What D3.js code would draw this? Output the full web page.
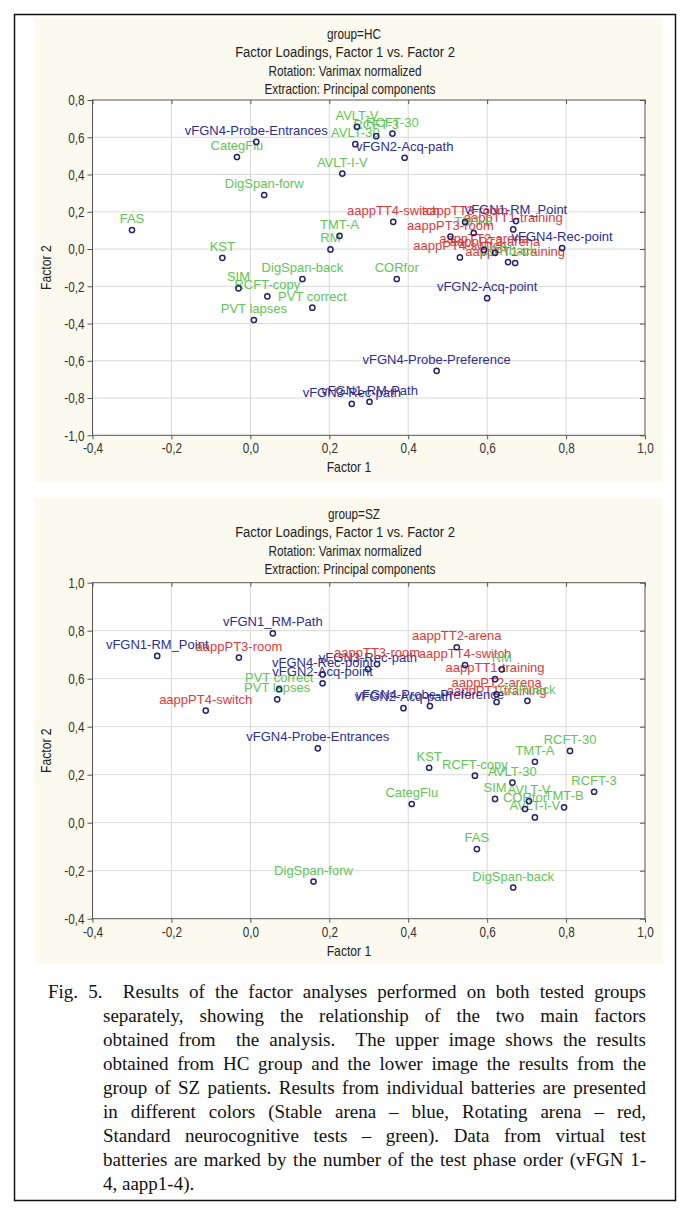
<!DOCTYPE html>
<html>
<head>
<meta charset="utf-8">
<script src="https://cdn.jsdelivr.net/npm/d3@7"></script>
<style>
  body { margin: 0; background: #fff; }
  svg { display: block; }
</style>
</head>
<body>
<svg id="fig" width="690" height="1216"></svg>
<script>
// tick values
const xTicks = [-0.4, -0.2, 0.0, 0.2, 0.4, 0.6, 0.8, 1.0];
const hcYTicks = [-1.0, -0.8, -0.6, -0.4, -0.2, 0.0, 0.2, 0.4, 0.6, 0.8];
const szYTicks = [-0.4, -0.2, 0.0, 0.2, 0.4, 0.6, 0.8, 1.0];

// group HC: S = stable arena, R = rotating arena, N = neurocognitive tests
const hcNames = ["FAS", "KST", "CategFlu", "vFGN4-Probe-Entrances", "DigSpan-forw", "AVLT-I-V",
  "TMT-A", "RM", "AVLT-V", "AVLT-30", "RCFT-3", "RCFT-30", "vFGN2-Acq-path", "SIM", "RCFT-copy",
  "DigSpan-back", "PVT correct", "PVT lapses", "CORfor", "vFGN2-Acq-point", "vFGN4-Probe-Preference",
  "vFGN1-RM-Path", "vFGN3-Rec-path", "aappTT4-switch", "aappTT3-room", "vFGN1-RM_Point",
  "aappTT1-training", "TMT-B", "aappPT3-room", "aappTT2-arena", "aappPT2-arena", "aappPT4-switch",
  "aappPT1-training", "CORback", "vFGN4-Rec-point"];
const hcF1 = [-0.30, -0.071, -0.034, 0.015, 0.035, 0.233, 0.226, 0.203, 0.27, 0.266, 0.319, 0.36, 0.391,
  -0.03, 0.043, 0.132, 0.157, 0.009, 0.371, 0.60, 0.472, 0.302, 0.257, 0.362, 0.544, 0.673, 0.666, 0.566,
  0.507, 0.592, 0.62, 0.531, 0.671, 0.653, 0.79];
const hcF2 = [0.102, -0.047, 0.494, 0.575, 0.29, 0.405, 0.071, -0.002, 0.656, 0.563, 0.606, 0.62, 0.49,
  -0.211, -0.254, -0.161, -0.315, -0.381, -0.161, -0.264, -0.654, -0.82, -0.831, 0.146, 0.145, 0.15, 0.105,
  0.086, 0.067, -0.005, -0.021, -0.045, -0.075, -0.07, 0.005];
const hcBattery = ["N", "N", "N", "S", "N", "N", "N", "N", "N", "N", "N", "N", "S", "N", "N", "N", "N", "N",
  "N", "S", "S", "S", "S", "R", "R", "S", "R", "N", "R", "R", "R", "R", "R", "N", "S"];

// group SZ
const szNames = ["vFGN1-RM_Point", "aappPT3-room", "vFGN1_RM-Path", "aappPT4-switch", "PVT correct",
  "PVT lapses", "vFGN4-Rec-point", "vFGN2-Acq-point", "vFGN3-Rec-path", "aappTT3-room", "aappTT2-arena",
  "aappTT4-switch", "RM", "aappTT1-training", "aappPT2-arena", "aappPT1-training", "CORback",
  "vFGN2-Acq-path", "vFGN4-Probe-Preference", "vFGN4-Probe-Entrances", "KST", "RCFT-copy", "TMT-A",
  "RCFT-30", "AVLT-30", "RCFT-3", "SIM", "AVLT-V", "CORfor", "TMT-B", "AVLT-I-V", "CategFlu", "FAS",
  "DigSpan-back", "DigSpan-forw"];
const szF1 = [-0.236, -0.029, 0.057, -0.113, 0.073, 0.068, 0.183, 0.183, 0.298, 0.321, 0.523, 0.544, 0.637,
  0.62, 0.624, 0.624, 0.702, 0.388, 0.455, 0.171, 0.453, 0.569, 0.721, 0.81, 0.664, 0.871, 0.62, 0.706,
  0.696, 0.795, 0.721, 0.409, 0.574, 0.666, 0.16];
const szF2 = [0.695, 0.688, 0.789, 0.467, 0.556, 0.514, 0.618, 0.581, 0.64, 0.661, 0.731, 0.657, 0.639,
  0.598, 0.535, 0.503, 0.508, 0.477, 0.486, 0.31, 0.229, 0.196, 0.254, 0.299, 0.167, 0.129, 0.099, 0.09,
  0.057, 0.064, 0.022, 0.078, -0.11, -0.27, -0.245];
const szBattery = ["S", "R", "S", "R", "N", "N", "S", "S", "S", "R", "R", "R", "N", "R", "R", "R", "N",
  "S", "S", "S", "N", "N", "N", "N", "N", "N", "N", "N", "N", "N", "N", "N", "N", "N", "N"];

const captionLines = [
  "Fig. 5.  Results of the factor analyses performed on both tested groups",
  "separately, showing the relationship of the two main factors",
  "obtained from  the analysis.  The upper image shows the results",
  "obtained from HC group and the lower image the results from the",
  "group of SZ patients. Results from individual batteries are presented",
  "in different colors (Stable arena \u2013 blue, Rotating arena \u2013 red,",
  "Standard neurocognitive tests \u2013 green). Data from virtual test",
  "batteries are marked by the number of the test phase order (vFGN 1-",
  "4, aapp1-4)."
];

const batteryColor = { S: "#2e2e92", R: "#de3a3a", N: "#63c457" };
const sans = "'Liberation Sans',Arial,sans-serif";
const squeeze = 0.84;   // Statistica uses a narrow face for titles and ticks
const fmt = v => d3.format(".1f")(v).replace(".", ",").replace("\u2212", "-");

const svg = d3.select("#fig");

// outer border of the figure
svg.append("rect")
   .attr("x", 14.5).attr("y", 14.5)
   .attr("width", 661).attr("height", 1186)
   .attr("fill", "none")
   .attr("stroke", "#111")
   .attr("stroke-width", 1.5);

// narrow text: scale horizontally around its anchor point
function narrowText(parent, x, y, str, size, anchor, rotate) {
  return parent.append("text")
    .attr("transform", `translate(${x},${y})${rotate ? " rotate(-90)" : ""} scale(${squeeze},1)`)
    .attr("text-anchor", anchor || "middle")
    .attr("fill", "#222")
    .style("font-family", sans)
    .style("font-size", size + "px")
    .text(str);
}

function drawChart(opts) {
  const g = svg.append("g");
  const left = 92.5, right = 645;

  g.append("rect")
   .attr("x", 35).attr("y", opts.panelTop)
   .attr("width", 628).attr("height", opts.panelHeight)
   .attr("fill", "#fcf9ee");

  const x = d3.scaleLinear().domain([-0.4, 1.0]).range([left, right]);
  const y = d3.scaleLinear().domain(opts.yDomain).range([opts.bottom, opts.top]);

  g.append("rect")
   .attr("x", left).attr("y", opts.top)
   .attr("width", right - left).attr("height", opts.bottom - opts.top)
   .attr("fill", "#fff");

  // grid
  g.append("g").selectAll("line").data(xTicks.slice(1, -1)).enter().append("line")
   .attr("x1", d => x(d)).attr("x2", d => x(d))
   .attr("y1", opts.top).attr("y2", opts.bottom)
   .attr("stroke", "#d9d9d9");
  g.append("g").selectAll("line").data(opts.yTicks.slice(1, -1)).enter().append("line")
   .attr("x1", left).attr("x2", right)
   .attr("y1", d => y(d)).attr("y2", d => y(d))
   .attr("stroke", "#d9d9d9");

  // axes
  const xAxis = d3.axisBottom(x).tickValues(xTicks).tickSize(4).tickFormat(fmt);
  const yAxis = d3.axisLeft(y).tickValues(opts.yTicks).tickSize(5).tickFormat(fmt);
  const axX = g.append("g").attr("transform", `translate(0,${opts.bottom})`).call(xAxis);
  const axY = g.append("g").attr("transform", `translate(${left},0)`).call(yAxis);
  g.append("g").attr("transform", `translate(${right},0)`)
   .call(d3.axisLeft(y).tickValues(opts.yTicks).tickSize(5).tickFormat(""));
  g.append("g").attr("transform", `translate(0,${opts.top})`)
   .call(d3.axisBottom(x).tickValues(xTicks).tickSize(4).tickFormat(""));
  g.selectAll(".domain").remove();
  g.selectAll(".tick line").attr("stroke", "#555");
  [axX, axY].forEach(a => a.selectAll("text")
    .attr("fill", "#333").style("font-family", sans).style("font-size", "14px"));
  axX.selectAll("text").attr("y", 0).attr("dy", 0)
     .attr("transform", `translate(0,18) scale(${squeeze},1)`);
  axY.selectAll("text").attr("x", 0).attr("dy", "0.34em")
     .attr("transform", `translate(-8,0) scale(${squeeze},1)`);

  g.append("rect")
   .attr("x", left).attr("y", opts.top)
   .attr("width", right - left).attr("height", opts.bottom - opts.top)
   .attr("fill", "none").attr("stroke", "#555");

  // titles
  narrowText(g, 354, opts.panelTop + 21, opts.group, 14);
  narrowText(g, 345, opts.panelTop + 39, "Factor Loadings, Factor 1 vs. Factor 2", 15.5);
  narrowText(g, 345, opts.panelTop + 58, "Rotation: Varimax normalized", 14);
  narrowText(g, 350, opts.panelTop + 76, "Extraction: Principal components", 14);

  narrowText(g, 349, opts.bottom + 37, "Factor 1", 14.5);
  narrowText(g, 51, (opts.top + opts.bottom) / 2, "Factor 2", 14.5, "middle", true);

  // labels then markers
  const idx = d3.range(opts.names.length);
  g.append("g").selectAll("text").data(idx).enter().append("text")
   .attr("x", i => x(opts.f1[i]))
   .attr("y", i => y(opts.f2[i]) - 7)
   .attr("text-anchor", "middle")
   .attr("fill", i => batteryColor[opts.battery[i]])
   .style("font-family", sans)
   .style("font-size", "13px")
   .text(i => opts.names[i]);
  g.append("g").selectAll("circle").data(idx).enter().append("circle")
   .attr("cx", i => x(opts.f1[i]))
   .attr("cy", i => y(opts.f2[i]))
   .attr("r", 2.6)
   .attr("fill", "none")
   .attr("stroke", "#24246e")
   .attr("stroke-width", 1.5);
}

drawChart({
  group: "group=HC", panelTop: 18, panelHeight: 464, top: 100, bottom: 435.3,
  yDomain: [-1.0, 0.8], yTicks: hcYTicks,
  names: hcNames, f1: hcF1, f2: hcF2, battery: hcBattery
});
drawChart({
  group: "group=SZ", panelTop: 498, panelHeight: 466, top: 582.7, bottom: 918.7,
  yDomain: [-0.4, 1.0], yTicks: szYTicks,
  names: szNames, f1: szF1, f2: szF2, battery: szBattery
});

// caption, justified with a hanging indent
const cap = svg.append("g")
  .style("font-family", "'Liberation Serif','Times New Roman',serif")
  .style("font-size", "19px")
  .attr("fill", "#111");
captionLines.forEach((line, li) => {
  const lx = li === 0 ? 48 : 103;
  const rx = 646;
  const by = 998 + li * 24;
  const words = line.split(/ +/);
  const runs = (line.match(/ +/g) || []).map(s => s.length);
  const nodes = words.map(w => cap.append("text").attr("y", by).text(w));
  const widths = nodes.map(n => n.node().getComputedTextLength());
  const last = li === captionLines.length - 1;
  const unit = last ? 4.75 : (rx - lx - d3.sum(widths)) / d3.sum(runs);
  let cx = lx;
  nodes.forEach((n, k) => {
    n.attr("x", cx);
    cx += widths[k] + (k < runs.length ? runs[k] * unit : 0);
  });
});
</script>
</body>
</html>
